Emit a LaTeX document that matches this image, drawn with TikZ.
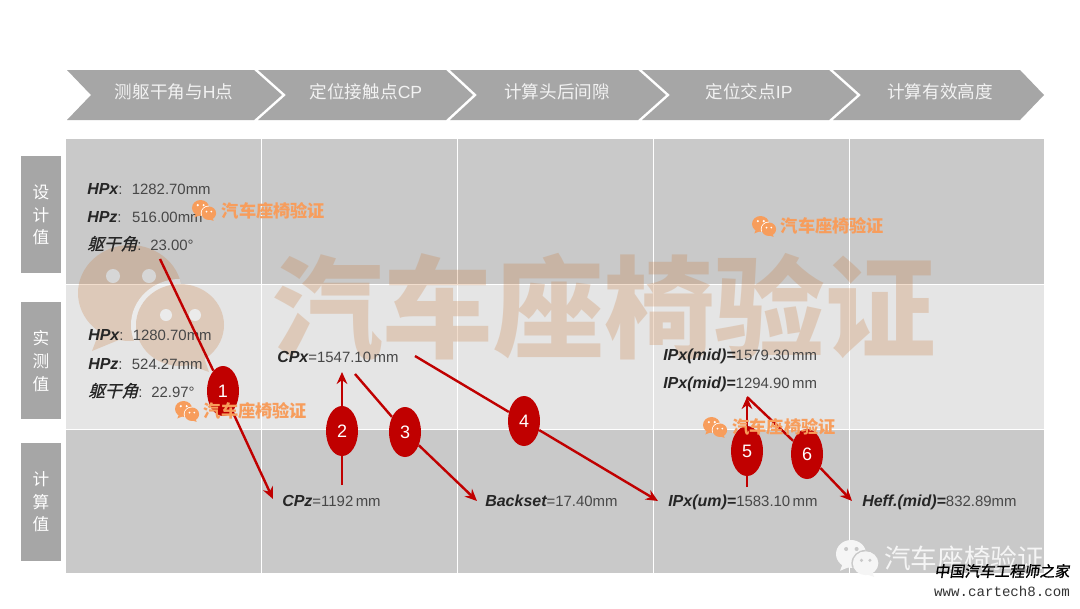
\documentclass[tikz,border=0pt]{standalone}
\usepackage{fontspec}
\setmainfont{Liberation Sans}
\newfontfamily\cjk{Noto Sans CJK SC}
\newfontfamily\cjkit[FakeSlant=0.25,FakeBold=0.6]{Noto Sans CJK SC}
\newfontfamily\cjkpen[FakeSlant=0.15,FakeBold=1.2]{Noto Sans CJK SC}
\newfontfamily\wwwfont{Liberation Mono}
\usetikzlibrary{arrows.meta}
\usetikzlibrary{shapes.geometric}

\definecolor{chevgray}{HTML}{A6A6A6}
\definecolor{rowdark}{HTML}{C9C9C9}
\definecolor{rowlight}{HTML}{E5E5E5}
\definecolor{markred}{HTML}{C00000}
\definecolor{stamp}{HTML}{F79D5C}
\definecolor{bigstamp}{HTML}{C87838}

\newcommand{\var}[1]{{\fontsize{12}{13}\selectfont\bfseries\itshape\color[HTML]{262626}#1}}
\newcommand{\trunk}{{\cjkit\fontsize{12.5}{13}\selectfont\color[HTML]{262626}躯干角}}
\newcommand{\wxlogo}[5]{%
  \begin{scope}[shift={(#1,#2)},scale=#3]
    \fill[#4] (22,85) -- (14,106) -- (48,92) -- cycle;
    \fill[#4] (52,48) ellipse (52 and 48);
    \begin{scope}
      \clip (52,48) ellipse (52 and 48);
      \fill[#5] (102,80) ellipse (49 and 46);
    \end{scope}
    \fill[#4] (122,100) -- (131,127) -- (100,116) -- cycle;
    \fill[#4] (102,80) ellipse (44 and 41);
    \fill[#5] (35,31) circle (7);
    \fill[#5] (71,31) circle (7);
    \fill[#5] (88,70) circle (6);
    \fill[#5] (117,70) circle (6);
  \end{scope}}

\tikzset{
  steptext/.style={text=white!95!black,font=\cjk\fontsize{13.2}{16}\selectfont,inner sep=0},
  sidebox/.style={fill=chevgray,text=white,align=center,inner sep=0,minimum width=30pt,
    font=\cjk\fontsize{12.5}{17}\selectfont},
  datatext/.style={anchor=base west,inner sep=0,text=black!72,font=\fontsize{11.2}{13}\selectfont},
  badge/.style={ellipse,fill=markred,text=white,inner sep=0,minimum width=24pt,minimum height=37.5pt,
    font=\fontsize{13.5}{16}\selectfont},
  flowline/.style={draw=markred,line width=1.8pt},
  flowarrow/.style={flowline,-{Stealth[length=9pt,width=8pt]}},
  stamptext/.style={text=stamp,inner sep=0,font=\cjk\bfseries\fontsize{12.9}{15}\selectfont},
}

\begin{document}
\begin{tikzpicture}[x=0.75pt,y=-0.75pt]
\useasboundingbox (0,0) rectangle (1080,608);
\fill[white] (0,0) rectangle (1080,608);

% Steps along the top
\fill[chevgray] (67,70) -- (254,70) -- (282,95) -- (254,120) -- (67,120) -- (91,95) -- cycle;
\node[steptext] (stepA) at (174,92) {\cjk 测躯干角与\rmfamily H\cjk 点};

\fill[chevgray] (258,70) -- (446,70) -- (473,95) -- (446,120) -- (258,120) -- (286,95) -- cycle;
\node[steptext] (stepB) at (366,92) {\cjk 定位接触点\rmfamily CP};

\fill[chevgray] (450,70) -- (638,70) -- (666,95) -- (638,120) -- (450,120) -- (477,95) -- cycle;
\node[steptext] (stepC) at (557,92) {计算头后间隙};

\fill[chevgray] (642,70) -- (829,70) -- (857,95) -- (829,120) -- (642,120) -- (670,95) -- cycle;
\node[steptext] (stepD) at (749,92) {\cjk 定位交点\rmfamily IP};

\fill[chevgray] (833,70) -- (1020,70) -- (1044,95) -- (1020,120) -- (833,120) -- (861,95) -- cycle;
\node[steptext] (stepE) at (940,92) {计算有效高度};

% Row labels
\fill[chevgray] (21,156) rectangle (61,273);
\node[sidebox] (rowA) at (41,215) {设\\计\\值};
\fill[chevgray] (21,302) rectangle (61,419);
\node[sidebox] (rowB) at (41,361) {实\\测\\值};
\fill[chevgray] (21,443) rectangle (61,561);
\node[sidebox] (rowC) at (41,502) {计\\算\\值};

% Table
\fill[rowdark] (66,139) rectangle (1044,284);
\fill[rowlight] (66,284) rectangle (1044,429);
\fill[rowdark] (66,429) rectangle (1044,573);
\draw[white,line width=0.7pt] (66,284) -- (1044,284);
\draw[white,line width=0.7pt] (66,429) -- (1044,429);
\draw[white,line width=0.6pt] (261.5,139) -- (261.5,573);
\draw[white,line width=0.6pt] (457.5,139) -- (457.5,573);
\draw[white,line width=0.6pt] (653.5,139) -- (653.5,573);
\draw[white,line width=0.6pt] (849.5,139) -- (849.5,573);

% Large stamp behind the values
\begin{scope}[transparency group,opacity=0.25]
\wxlogo{78}{245}{1}{bigstamp}{white}
\end{scope}
\node[inner sep=0,text=bigstamp,opacity=0.25,font=\cjk\bfseries\fontsize{83}{90}\selectfont] (bigName) at (604,307) {汽车座椅验证};

% Design values
\node[datatext] (hpxA) at (87,194) {\var{HPx}:\hspace{0.62em}1282.70mm};
\node[datatext] (hpzA) at (87,222) {\var{HPz}:\hspace{0.7em}516.00mm};
\node[datatext] (angA) at (87,250) {\trunk:\hspace{0.6em}23.00°};

% Measured values
\node[datatext] (hpxB) at (88,340) {\var{HPx}:\hspace{0.62em}1280.70mm};
\node[datatext] (hpzB) at (88,369) {\var{HPz}:\hspace{0.62em}524.27mm};
\node[datatext] (angB) at (88,397) {\trunk:\hspace{0.6em}22.97°};
\node[datatext] (cpx) at (277,362) {\var{CPx}=1547.10\,mm};
\node[datatext] (ipmidA) at (663,360) {\var{IPx(mid)=}1579.30\,mm};
\node[datatext] (ipmidB) at (663,388) {\var{IPx(mid)=}1294.90\,mm};

% Calculated values
\node[datatext] (cpz) at (282,506) {\var{CPz}=1192\,mm};
\node[datatext] (backset) at (485,506) {\var{Backset}=17.40mm};
\node[datatext] (ipum) at (668,506) {\var{IPx(um)=}1583.10\,mm};
\node[datatext] (heff) at (862,506) {\var{Heff.(mid)=}832.89mm};

% Numbered marks
\node[badge] (markA) at (223,391) {1};
\node[badge] (markB) at (342,431) {2};
\node[badge] (markC) at (405,432) {3};
\node[badge] (markD) at (524,421) {4};
\node[badge] (markE) at (747,451) {5};
\node[badge] (markF) at (807,454) {6};

% Arrows through the marks
\draw[flowline] ([shift={(73,9)}]angA.base west) -- (markA);
\draw[flowarrow] (markA) -- ([shift={(-9,-7)}]cpz.base west);

\draw[flowline] ([shift={(60,-21)}]cpz.base west) -- (markB);
\draw[flowarrow] (markB) -- ([shift={(65,10)}]cpx.base west);

\draw[flowline] ([shift={(78,12)}]cpx.base west) -- (markC);
\draw[flowarrow] (markC) -- ([shift={(-8,-5)}]backset.base west);

\draw[flowline] ([shift={(138,-6)}]cpx.base west) -- (markD);
\draw[flowarrow] (markD) -- ([shift={(-10,-5)}]ipum.base west);

\draw[flowline] ([shift={(79,-19)}]ipum.base west) -- (markE);
\draw[flowarrow] (markE) -- ([shift={(84,9)}]ipmidB.base west);

\draw[flowline] ([shift={(84,9)}]ipmidB.base west) -- (markF);
\draw[flowarrow] (markF) -- ([shift={(-10,-5)}]heff.base west);

% Small stamps on top
\wxlogo{192}{200}{0.165}{stamp}{white}
\node[stamptext] (stampA) at (273.5,211) {汽车座椅验证};
\wxlogo{175}{401}{0.165}{stamp}{white}
\node[stamptext] (stampB) at (255.5,411) {汽车座椅验证};
\wxlogo{752}{216}{0.165}{stamp}{white}
\node[stamptext] (stampC) at (832.5,226) {汽车座椅验证};
\wxlogo{703}{417}{0.165}{stamp}{white}
\node[stamptext] (stampD) at (784,427) {汽车座椅验证};

% Corner marks
\wxlogo{836}{540}{0.29}{white!96!black}{rowdark}
\node[inner sep=0,text=white!96!black,font=\cjk\fontsize{20}{24}\selectfont] (cornerName) at (964,558) {汽车座椅验证};
\node[inner sep=0,text=black,font=\cjkpen\fontsize{11.25}{14}\selectfont] (siteName) at (1002,571) {中国汽车工程师之家};
\node[inner sep=0,text=black!80,font=\wwwfont\fontsize{10.6}{13}\selectfont] (siteUrl) at (1002,591) {www.cartech8.com};
\end{tikzpicture}
\end{document}
